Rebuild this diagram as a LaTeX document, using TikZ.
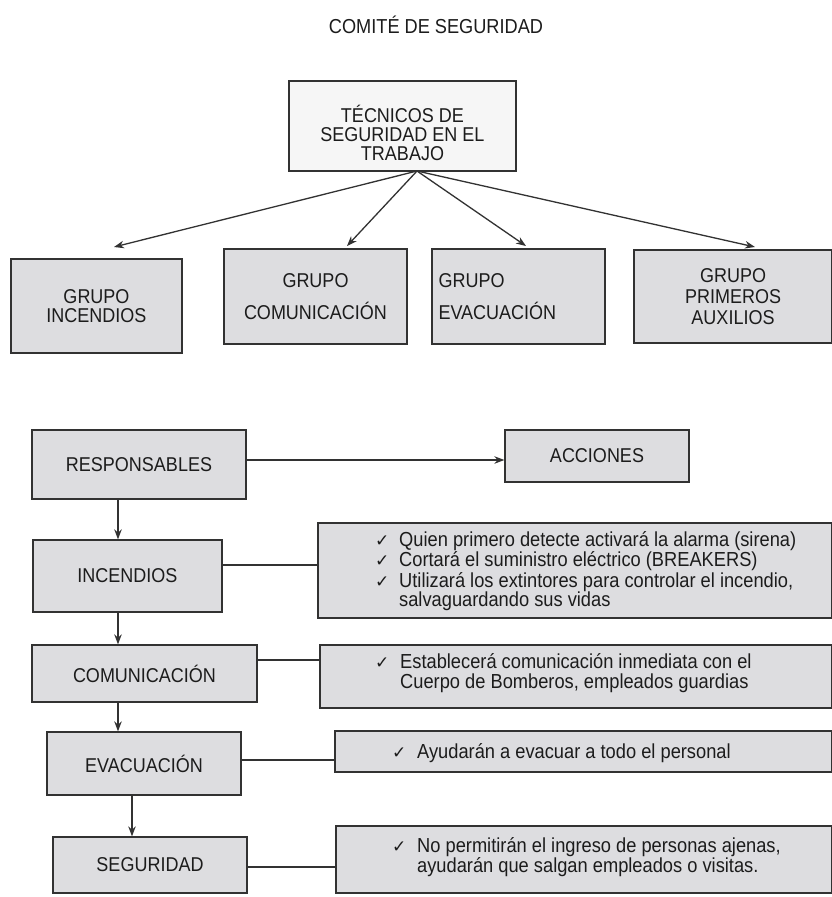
\documentclass[tikz,border=0pt]{standalone}
\usepackage{fontspec}
\setmainfont[FakeStretch=0.9]{Liberation Sans}
\newfontfamily\dejavu{DejaVu Sans}
\usetikzlibrary{arrows.meta}
\definecolor{boxfill}{RGB}{221,221,224}
\definecolor{topfill}{RGB}{246,246,246}
\definecolor{linec}{RGB}{50,50,50}
\definecolor{txt}{RGB}{28,28,28}
\newcommand{\boxfont}{\fontsize{20}{20}\selectfont}
\newcommand{\lstfont}{\fontsize{20.3}{19}\selectfont}
\newcommand{\lstfontb}{\fontsize{20.3}{20}\selectfont}
\newcommand{\chk}[1]{\makebox[#1][l]{\dejavu\fontsize{17}{17}\selectfont ✓}}
\begin{document}
\begin{tikzpicture}[x=1pt,y=-1pt,
  box/.style={draw=linec, line width=1.3pt, fill=boxfill, inner sep=0pt, font=\boxfont, text=txt, align=center},
  arr/.style={draw=linec, line width=1.3pt, -{Stealth[length=10pt,width=7.5pt]}},
  con/.style={draw=linec, line width=1.3pt},
  lst/.style={inner sep=0pt, text=txt, align=left, anchor=west}]
\fill[white] (0,0) rectangle (831,897);
\useasboundingbox (0,0) rectangle (831,897);

% title
\node[font=\fontsize{20.2}{20}\selectfont, text=txt] (title) at (436,25) {COMITÉ DE SEGURIDAD};

% top box
\node[box, fill=topfill, minimum width=227pt, minimum height=90pt] (top) at (402.5,126) {};
\node[font=\fontsize{20}{19}\selectfont, text=txt, align=center, inner sep=0pt] (topt) at (402.5,133) {TÉCNICOS DE\\SEGURIDAD EN EL\\TRABAJO};
\coordinate (src) at (417,171);

% group boxes
\node[box, minimum width=171pt, minimum height=94pt] (gI) at (96.5,306) {\raisebox{-3pt}{\shortstack{GRUPO\\[2pt]INCENDIOS}}};
\node[box, minimum width=183pt, minimum height=95pt] (gC) at (315.5,296.5) {GRUPO\\[12pt]COMUNICACIÓN};
\node[box, minimum width=173pt, minimum height=95pt, align=left, text width=160pt] (gE) at (518.5,296.5) {GRUPO\\[12pt]EVACUACIÓN};
\node[box, minimum width=198pt, minimum height=93pt, font=\fontsize{20}{21}\selectfont] (gP) at (733,296.5) {GRUPO\\PRIMEROS\\AUXILIOS};

\coordinate (tI) at (114,247);
\coordinate (tC) at (347,246);
\coordinate (tE) at (526,246);
\coordinate (tP) at (755,247);
\draw[arr] (src) -- (tI);
\draw[arr] (src) -- (tC);
\draw[arr] (src) -- (tE);
\draw[arr] (src) -- (tP);

% responsables / acciones
\node[box, minimum width=214pt, minimum height=69pt] (resp) at (139,464.5) {RESPONSABLES};
\node[box, minimum width=184pt, minimum height=52pt] (acc) at (597,456) {\raisebox{-4pt}{ACCIONES}};
\coordinate (yra) at (0,460);
\draw[arr] (resp.east |- yra) -- (acc.west |- yra);

% left column
\node[box, minimum width=189pt, minimum height=72pt] (inc) at (127.5,576) {\raisebox{-5pt}{INCENDIOS}};
\node[box, minimum width=225pt, minimum height=57pt] (com) at (144.5,673.5) {COMUNICACIÓN};
\node[box, minimum width=194pt, minimum height=63pt] (evac) at (144,763.5) {EVACUACIÓN};
\node[box, minimum width=194pt, minimum height=56pt] (seg) at (150,865) {SEGURIDAD};

\coordinate (xa) at (118,0);
\coordinate (xb) at (132,0);
\draw[arr] (resp.south -| xa) -- (inc.north -| xa);
\draw[arr] (inc.south -| xa) -- (com.north -| xa);
\draw[arr] (com.south -| xa) -- (evac.north -| xa);
\draw[arr] (evac.south -| xb) -- (seg.north -| xb);

% action boxes
\node[box, minimum width=514pt, minimum height=95pt] (b1) at (575,570.5) {};
\node[box, minimum width=512pt, minimum height=63pt] (b2) at (576,676.5) {};
\node[box, minimum width=497pt, minimum height=41pt] (b3) at (583.5,751.5) {};
\node[box, minimum width=496pt, minimum height=67pt] (b4) at (584,859.5) {};

\node[lst, font=\lstfont] (b1t) at (375,571) {\chk{24pt}Quien primero detecte activará la alarma (sirena)\\
\chk{24pt}Cortará el suministro eléctrico (BREAKERS)\\
\chk{24pt}Utilizará los extintores para controlar el incendio,\\
\hspace{24pt}salvaguardando sus vidas};
\node[lst, font=\lstfontb] (b2t) at (375,673) {\chk{25pt}Establecerá comunicación inmediata con el\\
\hspace{25pt}Cuerpo de Bomberos, empleados guardias};
\node[lst, font=\lstfontb] (b3t) at (392,753) {\chk{25pt}Ayudarán a evacuar a todo el personal};
\node[lst, font=\lstfontb] (b4t) at (392,857) {\chk{25pt}No permitirán el ingreso de personas ajenas,\\
\hspace{25pt}ayudarán que salgan empleados o visitas.};

% connectors
\coordinate (y1) at (0,565);
\coordinate (y2) at (0,660);
\coordinate (y3) at (0,760);
\coordinate (y4) at (0,867);
\draw[con] (inc.east |- y1) -- (b1.west |- y1);
\draw[con] (com.east |- y2) -- (b2.west |- y2);
\draw[con] (evac.east |- y3) -- (b3.west |- y3);
\draw[con] (seg.east |- y4) -- (b4.west |- y4);
\end{tikzpicture}
\end{document}
